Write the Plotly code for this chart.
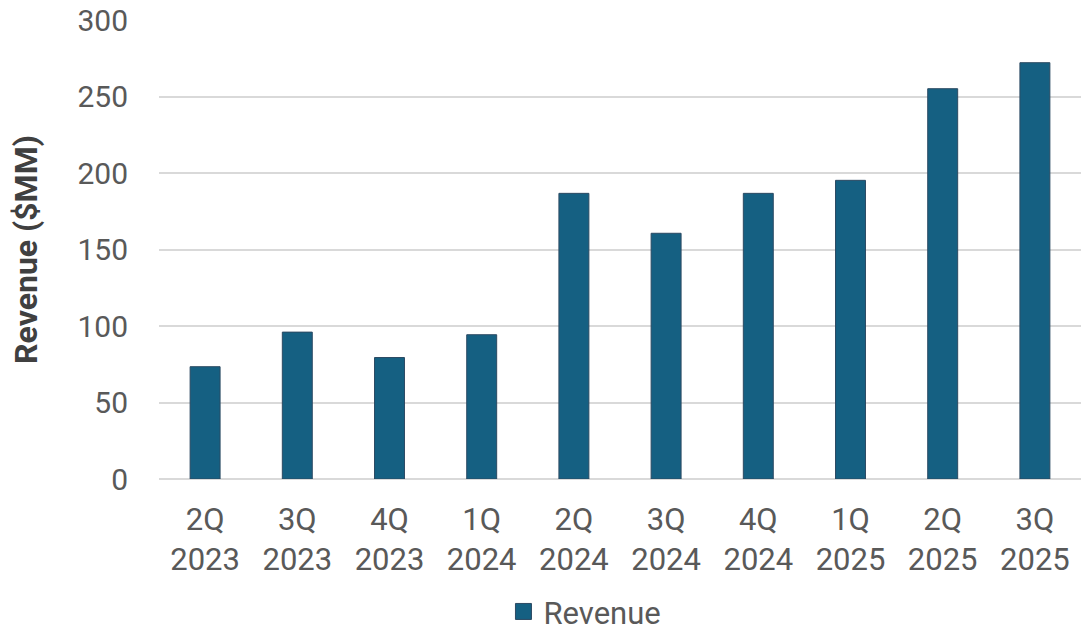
import plotly.graph_objects as go

# Quarterly revenue, $MM
quarters = ["2Q<br>2023", "3Q<br>2023", "4Q<br>2023", "1Q<br>2024", "2Q<br>2024",
            "3Q<br>2024", "4Q<br>2024", "1Q<br>2025", "2Q<br>2025", "3Q<br>2025"]
revenue = [73.4, 96.0, 79.4, 94.3, 186.7, 160.6, 186.7, 195.2, 255.1, 272.1]
y_ticks = [0, 50, 100, 150, 200, 250, 300]

BAR_COLOR = "#156082"
EDGE_COLOR = "#2c4a63"
TEXT_COLOR = "#595959"
GRID_COLOR = "#d9d9d9"
FONT = "Roboto"

fig = go.Figure()

fig.add_trace(go.Bar(
    x=quarters,
    y=revenue,
    name="Revenue",
    marker=dict(color=BAR_COLOR, line=dict(color=EDGE_COLOR, width=1)),
    showlegend=False,
))

# Larger legend swatch than the default bar icon
fig.add_trace(go.Scatter(
    x=[None], y=[None],
    mode="markers",
    name="Revenue",
    marker=dict(symbol="square", size=16, color=BAR_COLOR,
                line=dict(color=EDGE_COLOR, width=1)),
))

fig.update_layout(
    width=1081,
    height=634,
    margin=dict(l=159, r=0, t=20, b=155, autoexpand=False),
    paper_bgcolor="white",
    plot_bgcolor="white",
    font=dict(family=FONT, size=30, color=TEXT_COLOR),
    bargap=0.675,
    legend=dict(
        orientation="h",
        x=0.462, xanchor="center",
        yref="container",
        y=0.035, yanchor="middle",
        font=dict(family=FONT, size=31, color=TEXT_COLOR),
        itemwidth=30,
    ),
)

fig.update_xaxes(
    showgrid=False,
    showline=False,
    ticks="",
    tickfont=dict(family=FONT, size=31, color=TEXT_COLOR),
    ticklabelstandoff=19,
)

fig.update_yaxes(
    range=[0, 300],
    tickvals=y_ticks,
    showgrid=True,
    gridcolor=GRID_COLOR,
    gridwidth=1.5,
    zeroline=True,
    zerolinecolor=GRID_COLOR,
    zerolinewidth=1.5,
    showline=False,
    ticks="",
    tickfont=dict(family=FONT, size=30, color=TEXT_COLOR),
    ticklabelstandoff=30,
    title=dict(
        text="<b>Revenue ($MM)</b>",
        font=dict(family=FONT, size=32, color="#404040"),
        standoff=30,
    ),
)

fig.write_html("out.html")
